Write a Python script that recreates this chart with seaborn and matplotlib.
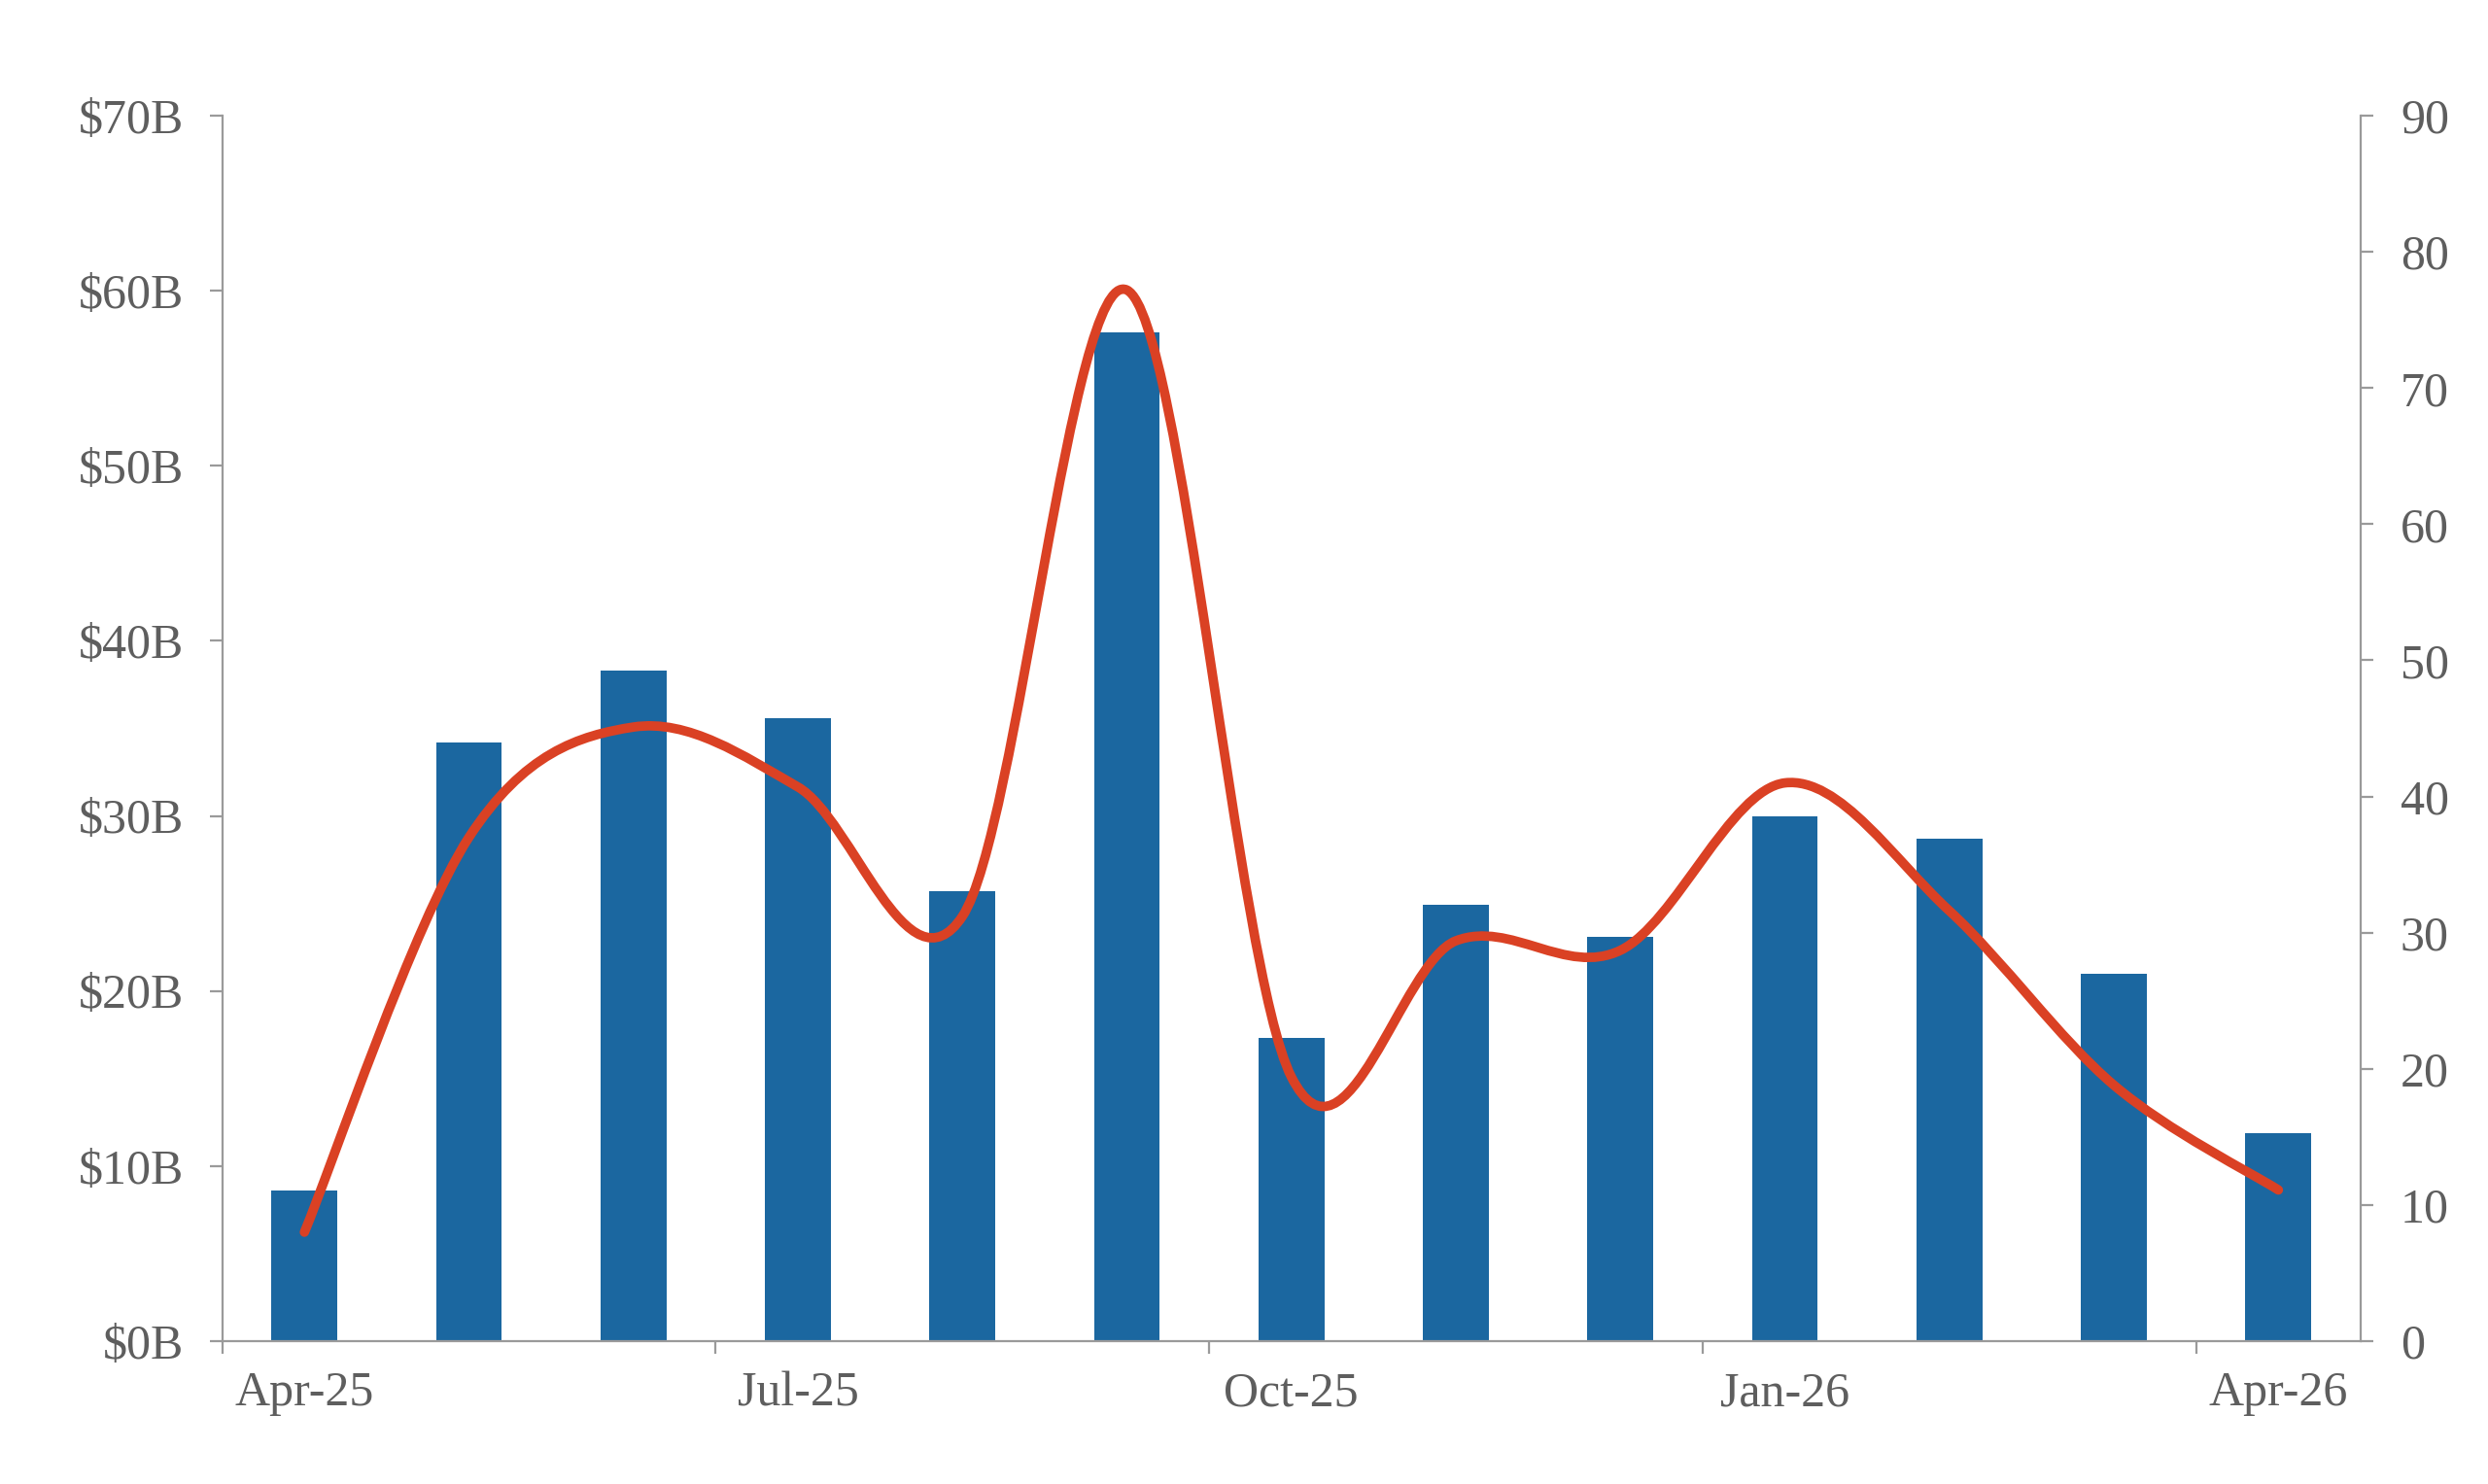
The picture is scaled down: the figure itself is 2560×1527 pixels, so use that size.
import matplotlib
matplotlib.use("Agg")
import matplotlib.pyplot as plt
import seaborn as sns
import numpy as np
import pandas as pd
from matplotlib.path import Path
from matplotlib.patches import PathPatch
from matplotlib.ticker import FuncFormatter, FixedLocator

# ---- data ----
months = ["Apr-25", "May-25", "Jun-25", "Jul-25", "Aug-25", "Sep-25", "Oct-25",
          "Nov-25", "Dec-25", "Jan-26", "Feb-26", "Mar-26", "Apr-26"]
amount_b = [8.6, 34.2, 38.3, 35.6, 25.7, 57.6, 17.3, 24.9, 23.1, 30.0, 28.7, 21.0, 11.9]
deal_count = [8.0, 37.0, 45.1, 40.7, 31.2, 77.2, 19.4, 29.4, 28.7, 41.0, 31.6, 18.8, 11.1]
shown_labels = ["Apr-25", "Jul-25", "Oct-25", "Jan-26", "Apr-26"]
left_ticks = [0, 10, 20, 30, 40, 50, 60, 70]
right_ticks = [0, 10, 20, 30, 40, 50, 60, 70, 80, 90]

BAR_COLOR = "#1B67A0"
LINE_COLOR = "#DA4124"
TEXT_COLOR = "#5E5E5E"
AXIS_COLOR = "#9A9A9A"

sns.set_theme(style="white")
plt.rcParams["font.family"] = ["Liberation Serif", "DejaVu Serif"]

df = pd.DataFrame({"month": months, "amount": amount_b, "deals": deal_count})

fig = plt.figure(figsize=(25.6, 15.27), dpi=100)
ax = fig.add_axes([0.0893, 0.0963, 0.9488 - 0.0893, 0.922 - 0.0963])

sns.barplot(data=df, x="month", y="amount", color=BAR_COLOR, width=0.4,
            saturation=1, linewidth=0, ax=ax, order=months)
ax.set_xlim(-0.5, len(months) - 0.5)
ax.set_ylim(0, 70)
ax.set_xlabel("")
ax.set_ylabel("")

ax2 = ax.twinx()
ax2.set_ylim(0, 90)

# smoothed line (Catmull-Rom Bezier through the data points, in data coordinates)
xs = np.arange(len(months), dtype=float)
ys = np.array(deal_count, dtype=float)
pts = np.column_stack([xs, ys])
verts = [tuple(pts[0])]
codes = [Path.MOVETO]
n = len(pts)
for i in range(n - 1):
    p0 = pts[i - 1] if i > 0 else pts[i]
    p1 = pts[i]
    p2 = pts[i + 1]
    p3 = pts[i + 2] if i + 2 < n else pts[i + 1]
    c1 = p1 + (p2 - p0) / 6.0
    c2 = p2 - (p3 - p1) / 6.0
    verts += [tuple(c1), tuple(c2), tuple(p2)]
    codes += [Path.CURVE4] * 3
patch = PathPatch(Path(verts, codes), facecolor="none", edgecolor=LINE_COLOR,
                  linewidth=7, capstyle="round", joinstyle="round",
                  transform=ax2.transData, zorder=5)
ax2.add_patch(patch)

# ---- axes styling ----
for a in (ax, ax2):
    a.spines["top"].set_visible(False)
    for s in ["left", "right", "bottom"]:
        a.spines[s].set_color(AXIS_COLOR)
        a.spines[s].set_linewidth(1.6)
ax.spines["right"].set_visible(False)
ax2.spines["left"].set_visible(False)
ax2.spines["bottom"].set_visible(False)

ax.yaxis.set_major_locator(FixedLocator(left_ticks))
ax.yaxis.set_major_formatter(FuncFormatter(lambda v, p: f"${int(v)}B"))
ax.tick_params(axis="y", which="major", left=True, direction="out", length=9.5,
               width=1.6, color=AXIS_COLOR, pad=19, labelsize=36, labelcolor=TEXT_COLOR)

ax2.yaxis.set_major_locator(FixedLocator(right_ticks))
ax2.tick_params(axis="y", which="major", right=True, direction="out", length=9.5,
                width=1.6, color=AXIS_COLOR, pad=20, labelsize=36, labelcolor=TEXT_COLOR)

# x: ticks at category boundaries, labels under every third bar
ax.set_xticks([-0.5, 2.5, 5.5, 8.5, 11.5])
ax.set_xticklabels([])
ax.tick_params(axis="x", which="major", bottom=True, direction="out", length=9.5,
               width=1.6, color=AXIS_COLOR)
label_pos = [months.index(m) for m in shown_labels]
ax.set_xticks(label_pos, minor=True)
ax.set_xticklabels(shown_labels, minor=True)
ax.tick_params(axis="x", which="minor", bottom=True, length=0, pad=22,
               labelsize=36, labelcolor=TEXT_COLOR)

ax.grid(False)
ax2.grid(False)

fig.savefig("out.png", dpi=100, facecolor="white")
